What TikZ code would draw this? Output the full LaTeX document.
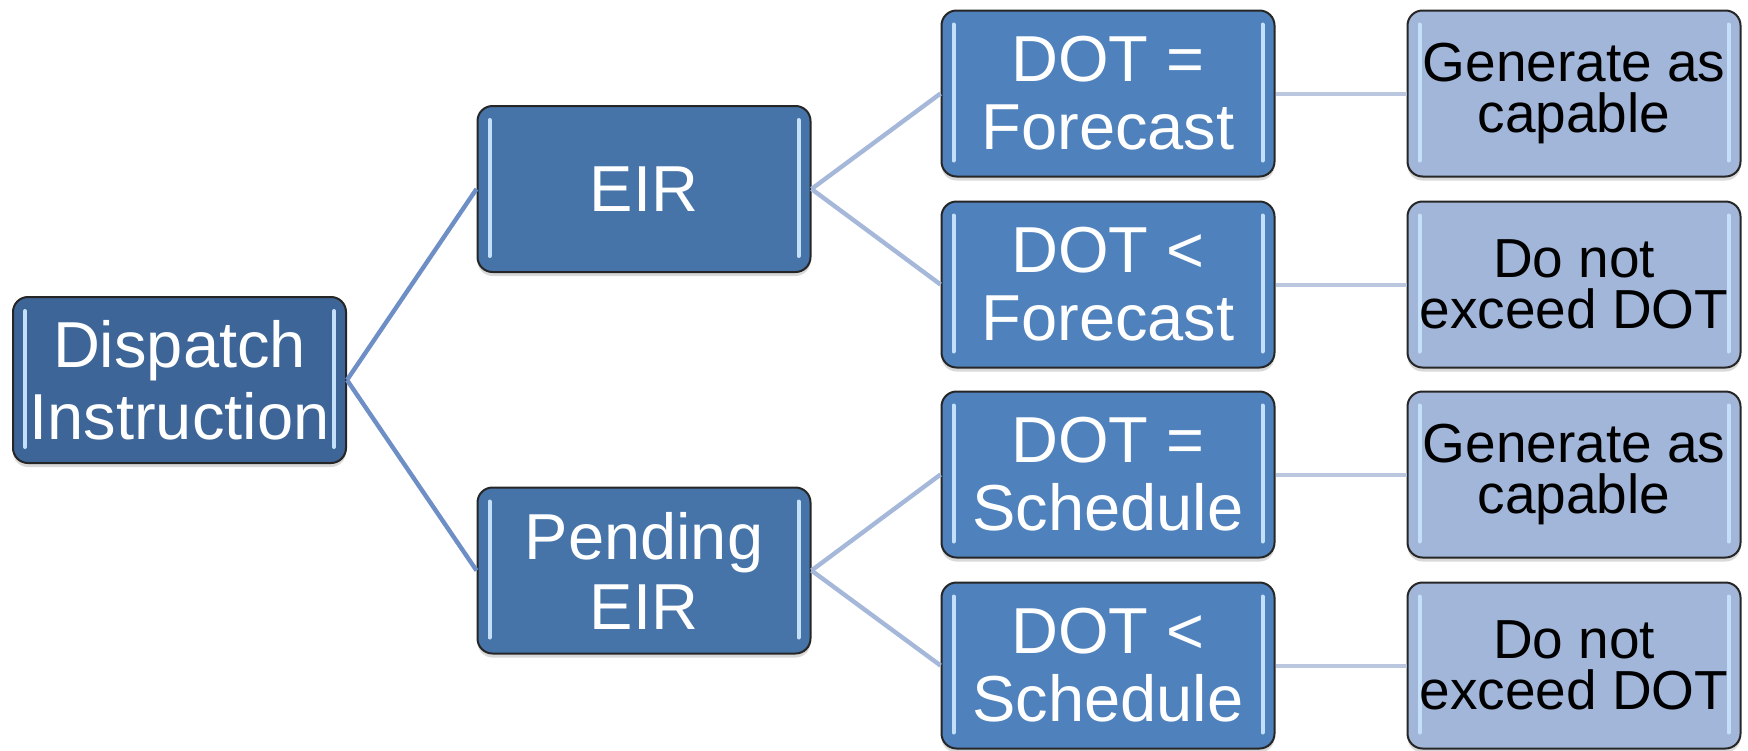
\documentclass[tikz,border=0pt]{standalone}
\usepackage{fontspec}
\setmainfont{Liberation Sans}
\usetikzlibrary{shadows}

\definecolor{lvlonefill}{HTML}{3E6597}
\definecolor{lvltwofill}{HTML}{4674A9}
\definecolor{lvlthreefill}{HTML}{4F81BD}
\definecolor{lvlfourfill}{HTML}{A2B6D9}
\definecolor{linkone}{HTML}{6E8FC6}
\definecolor{linktwo}{HTML}{A6B8DA}
\definecolor{linkthree}{HTML}{BAC7DF}
\definecolor{glosscol}{HTML}{C4E0F8}

\tikzset{
  gloss/.style={glosscol, line width=2pt, line cap=round},
  box/.style={rounded corners=7.5pt, minimum width=166.5pt, minimum height=83pt,
    inner sep=0pt, align=center, draw=black!85, line width=1pt,
    drop shadow={shadow xshift=0pt, shadow yshift=-2pt, opacity=0.3},
    path picture={
      \draw[gloss] ([xshift=6pt,yshift=-7pt]path picture bounding box.north west)
        -- ([xshift=6pt,yshift=8pt]path picture bounding box.south west);
      \draw[gloss] ([xshift=-6pt,yshift=-7pt]path picture bounding box.north east)
        -- ([xshift=-6pt,yshift=8pt]path picture bounding box.south east);
    }},
  lvlone/.style={box, fill=lvlonefill, text=white, font=\fontsize{32.5pt}{36pt}\selectfont},
  lvltwo/.style={box, fill=lvltwofill, text=white, font=\fontsize{32.5pt}{35pt}\selectfont},
  lvlthree/.style={box, fill=lvlthreefill, text=white, font=\fontsize{32.5pt}{34pt}\selectfont},
  lvlfour/.style={box, fill=lvlfourfill, text=black, font=\fontsize{27.5pt}{25.5pt}\selectfont},
}

\begin{document}
\begin{tikzpicture}[x=0.5pt, y=-0.5pt]
% Instrucción de despacho: EIR / EIR pendiente y límites DOT
\useasboundingbox (0,0) rectangle (1748,750);
\node (disp) at (179.5,380) [lvlone] {Dispatch\\Instruction};
\node (eir) at (644,189) [lvltwo] {EIR};
\node (peir) at (644,570.5) [lvltwo] {Pending\\EIR};
\node (eqfc) at (1108,93.5) [lvlthree] {DOT =\\Forecast};
\node (ltfc) at (1108,284.5) [lvlthree] {DOT <\\Forecast};
\node (eqsc) at (1108,474.5) [lvlthree] {DOT =\\Schedule};
\node (ltsc) at (1108,665.5) [lvlthree] {DOT <\\Schedule};
\node (gena) at (1574,93.5) [lvlfour] {Generate as\\capable};
\node (noxa) at (1574,284.5) [lvlfour] {Do not\\exceed DOT};
\node (genb) at (1574,474.5) [lvlfour] {Generate as\\capable};
\node (noxb) at (1574,665.5) [lvlfour] {Do not\\exceed DOT};
\draw[linkone, line width=2.2pt] (disp.east) -- (eir.west);
\draw[linkone, line width=2.2pt] (disp.east) -- (peir.west);
\draw[linktwo, line width=2.2pt] (eir.east) -- (eqfc.west);
\draw[linktwo, line width=2.2pt] (eir.east) -- (ltfc.west);
\draw[linktwo, line width=2.2pt] (peir.east) -- (eqsc.west);
\draw[linktwo, line width=2.2pt] (peir.east) -- (ltsc.west);
\draw[linkthree, line width=2pt] (eqfc.east) -- (gena.west);
\draw[linkthree, line width=2pt] (ltfc.east) -- (noxa.west);
\draw[linkthree, line width=2pt] (eqsc.east) -- (genb.west);
\draw[linkthree, line width=2pt] (ltsc.east) -- (noxb.west);
\end{tikzpicture}
\end{document}
